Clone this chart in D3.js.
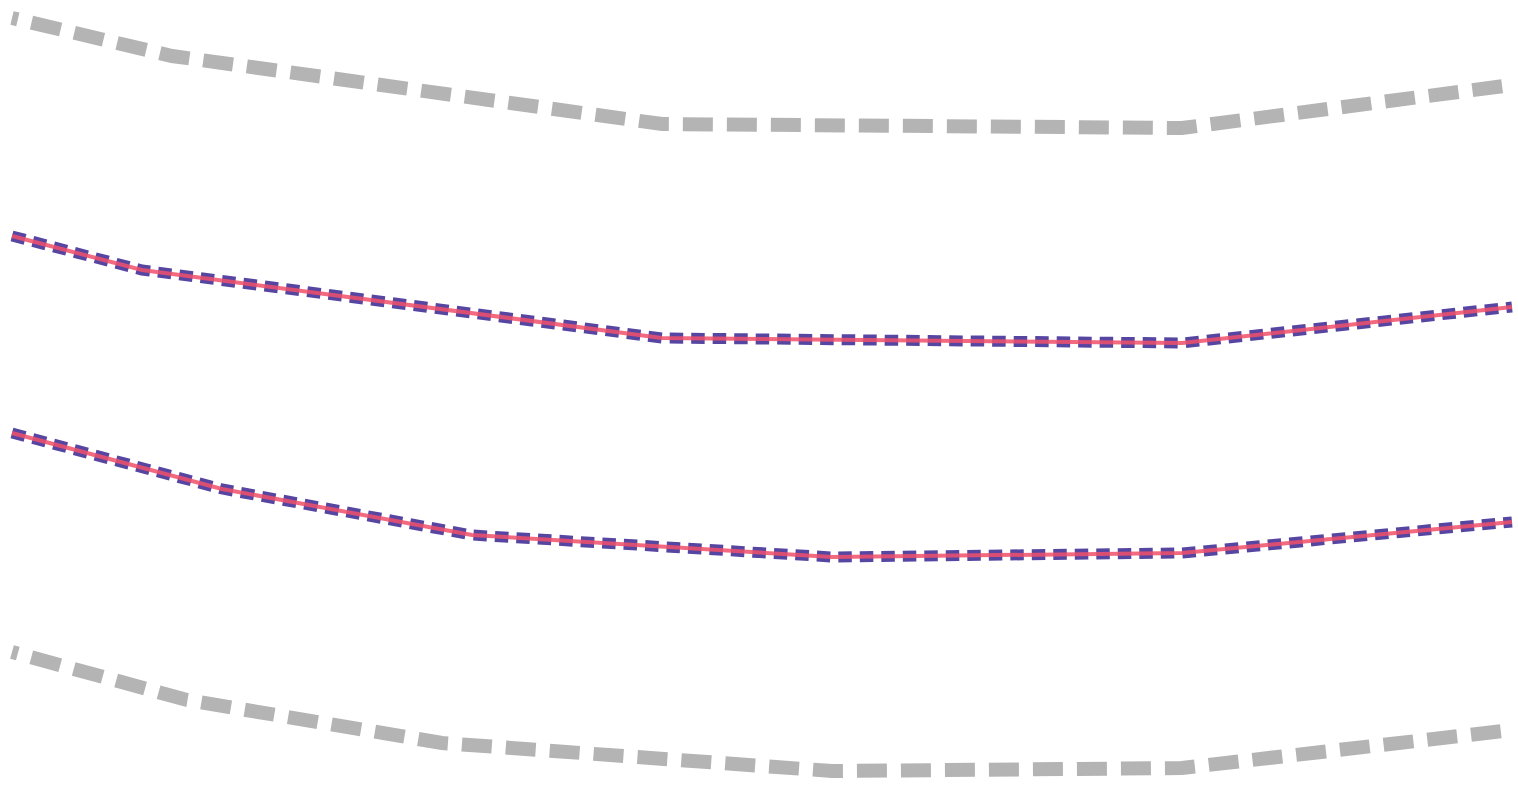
<!DOCTYPE html>
<html>
<head>
<meta charset="utf-8">
<script src="https://cdn.jsdelivr.net/npm/d3@7"></script>
<style>
  html, body { margin: 0; padding: 0; background: #ffffff; overflow: hidden; }
  svg { display: block; }
</style>
</head>
<body>
<svg id="chart" width="1518" height="787"></svg>
<script>
// ---- data (x in arbitrary units, y in arbitrary units) ----
const upperOuterX = [0, 1.6, 6.5, 11.7, 15];
const upperOuterY = [7.69, 7.31, 6.63, 6.59, 7.02];

const upperInnerX = [0, 1.3, 6.5, 11.7, 15];
const upperInnerY = [5.51, 5.17, 4.49, 4.44, 4.80];

const lowerInnerX = [0, 2.1, 4.6, 8.2, 11.7, 15];
const lowerInnerY = [3.54, 2.98, 2.52, 2.30, 2.34, 2.65];

const lowerOuterX = [0, 1.75, 4.3, 8.2, 11.7, 15];
const lowerOuterY = [1.35, 0.87, 0.44, 0.16, 0.19, 0.57];

// ---- layout ----
const svg = d3.select("#chart");
const x = d3.scaleLinear().domain([0, 15]).range([12, 1512]);
const y = d3.scaleLinear().domain([0, 7.87]).range([787, 0]);

const line = d3.line().x(d => x(d[0])).y(d => y(d[1])).curve(d3.curveLinear);
const pts = (xs, ys) => xs.map((v, i) => [v, ys[i]]);

function grayLine(xs, ys) {
  svg.append("path")
    .attr("d", line(pts(xs, ys)))
    .attr("fill", "none")
    .attr("stroke", "#b4b4b4")
    .attr("stroke-width", 14)
    .attr("stroke-dasharray", "30,14")
    .attr("stroke-dashoffset", 24);
}

function colorLine(xs, ys) {
  const d = line(pts(xs, ys));
  svg.append("path")
    .attr("d", d)
    .attr("fill", "none")
    .attr("stroke", "#5646a2")
    .attr("stroke-width", 11)
    .attr("stroke-dasharray", "13.5,8");
  svg.append("path")
    .attr("d", d)
    .attr("fill", "none")
    .attr("stroke", "#f0506a")
    .attr("stroke-opacity", 0.85)
    .attr("stroke-width", 4);
}

grayLine(upperOuterX, upperOuterY);
colorLine(upperInnerX, upperInnerY);
colorLine(lowerInnerX, lowerInnerY);
grayLine(lowerOuterX, lowerOuterY);
</script>
</body>
</html>
